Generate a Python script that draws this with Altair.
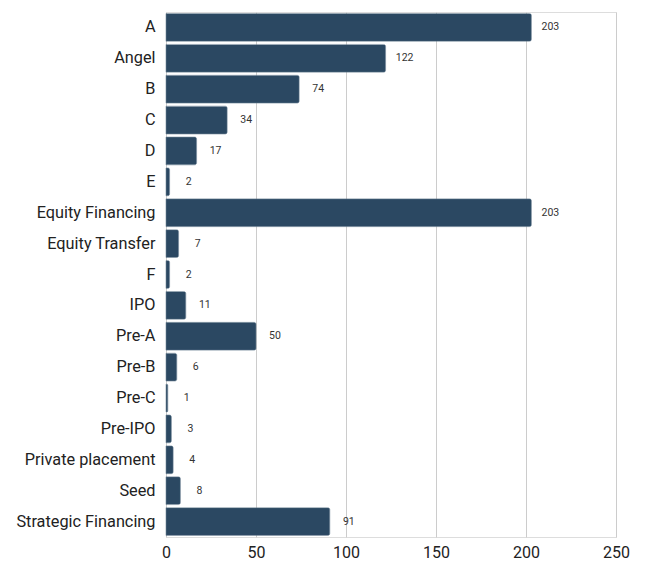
import altair as alt
import pandas as pd

categories = ["A", "Angel", "B", "C", "D", "E", "Equity Financing", "Equity Transfer",
              "F", "IPO", "Pre-A", "Pre-B", "Pre-C", "Pre-IPO", "Private placement",
              "Seed", "Strategic Financing"]
counts = [203, 122, 74, 34, 17, 2, 203, 7, 2, 11, 50, 6, 1, 3, 4, 8, 91]
x_ticks = [0, 50, 100, 150, 200, 250]

df = pd.DataFrame({"category": categories, "count": counts})

y_enc = alt.Y("category:N", sort=categories, title=None,
              scale=alt.Scale(paddingInner=0.1, paddingOuter=0.05),
              axis=alt.Axis(ticks=False, domain=False, labelFontSize=16.3,
                            labelColor="#222222", labelPadding=11,
                            labelFont="Roboto", grid=False, labelLimit=300))
x_enc = alt.X("count:Q", title=None,
              scale=alt.Scale(domain=[0, 250], nice=False),
              axis=alt.Axis(values=x_ticks, ticks=False, domain=False,
                            labelFontSize=16, labelColor="#222222",
                            labelFont="Roboto", labelPadding=7, labelFlush=False,
                            grid=True, gridColor="#cccccc", gridWidth=1))

bars = alt.Chart(df).mark_bar(color="#2b4862", cornerRadiusEnd=2,
                              stroke="#5a7287", strokeWidth=0.5).encode(
    x=x_enc, y=y_enc)

labels = alt.Chart(df).mark_text(align="center", baseline="middle", dx=19,
                                 fontSize=10.5, font="Roboto", color="#333333").encode(
    x="count:Q", y=alt.Y("category:N", sort=categories), text="count:Q")

chart = (bars + labels).properties(
    width=450, height=525,
    autosize=alt.AutoSizeParams(type="none"),
    padding={"left": 166, "top": 12, "right": 30, "bottom": 24},
).configure_view(stroke=None).configure(background="white")

chart.save("out.html", embed_options={"renderer": "svg", "actions": False})
